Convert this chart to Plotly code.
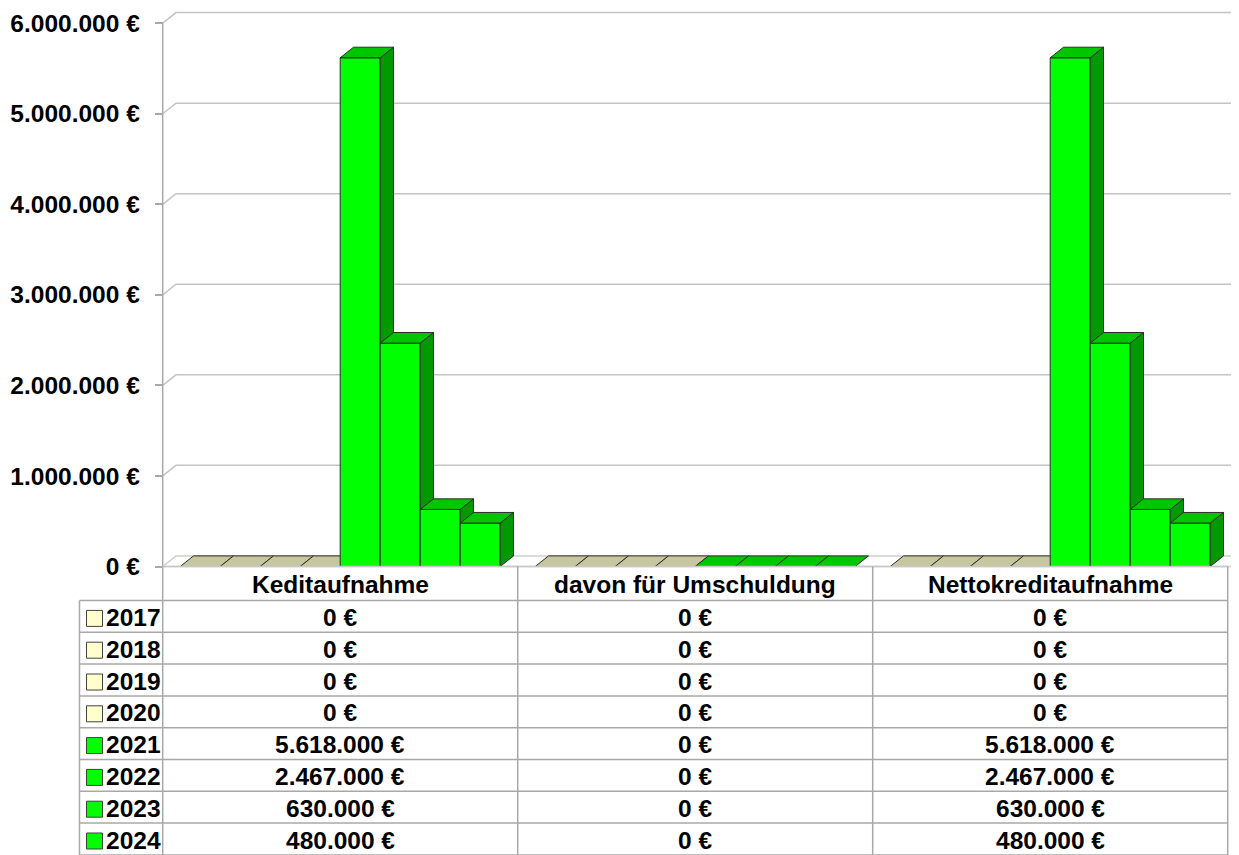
import plotly.graph_objects as go

# ---------------- data ----------------
categories = ["Keditaufnahme", "davon für Umschuldung", "Nettokreditaufnahme"]
years = ["2017", "2018", "2019", "2020", "2021", "2022", "2023", "2024"]
kreditaufnahme = [0, 0, 0, 0, 5618000, 2467000, 630000, 480000]
umschuldung = [0, 0, 0, 0, 0, 0, 0, 0]
nettokreditaufnahme = [0, 0, 0, 0, 5618000, 2467000, 630000, 480000]
y_ticks = [0, 1000000, 2000000, 3000000, 4000000, 5000000, 6000000]

# ---------------- styles ----------------
year_colors = ["#FFFFCC", "#FFFFCC", "#FFFFCC", "#FFFFCC",
               "#00FF00", "#00FF00", "#00FF00", "#00FF00"]
EDGE = "#2b2b2b"
GRID = "#C4C4C4"
TABLE_LINE = "#A8A8A8"
FONT = "Liberation Sans, Arial, sans-serif"
FS = 24.5

# the page body has an 8px margin: figure pixel = screen pixel - OFF
OFF = 8
FIG_W, FIG_H = 1239 - OFF, 855 - OFF
X_LEFT_PX = 162.7 - OFF     # pixel of category boundary -0.5 (value axis)
CAT_PX = 355.0              # pixels per category
Y0_PX = 566.5 - OFF         # pixel of value 0
PX_PER_UNIT = 90.55 / 1e6

BAR_W = 40.0 / CAT_PX
DX = 13.3 / CAT_PX
DY = 10.6 / PX_PER_UNIT

HEADER_TOP = 566.5 - OFF
HEADER_BOT = 600.5 - OFF
ROW_H = 31.8
TABLE_LEFT_PX = 79.5 - OFF


def xd(px):
    return -0.5 + (px - X_LEFT_PX) / CAT_PX


def yp(px):
    return 1 - px / FIG_H


def shade(hexcol, f):
    h = hexcol.lstrip("#")
    r, g, b = (int(h[k:k + 2], 16) for k in (0, 2, 4))
    return "#%02X%02X%02X" % (int(r * f), int(g * f), int(b * f))


def fmt(v):
    return f"{v:,}".replace(",", ".") + " €"


series_by_cat = [kreditaufnahme, umschuldung, nettokreditaufnahme]
n_years = len(years)

x_min = xd(0)
x_max = xd(FIG_W)
y_min = -(FIG_H - Y0_PX) / PX_PER_UNIT
y_max = Y0_PX / PX_PER_UNIT

fig = go.Figure()


def poly(xs, ys, color):
    fig.add_trace(go.Scatter(
        x=xs + [xs[0]], y=ys + [ys[0]], mode="lines", fill="toself",
        fillcolor=color, line=dict(color=EDGE, width=1),
        hoverinfo="skip", showlegend=False))


# pseudo-3D bars, painted left to right
for c, vals in enumerate(series_by_cat):
    for i, v in enumerate(vals):
        base = year_colors[i]
        x0 = c + (i - n_years / 2) * BAR_W
        x1 = x0 + BAR_W
        if v > 0:
            poly([x0, x1, x1, x0], [0, 0, v, v], base)
            poly([x1, x1 + DX, x1 + DX, x1], [0, DY, v + DY, v], shade(base, 0.6))
        poly([x0, x1, x1 + DX, x0 + DX], [v, v, v + DY, v + DY], shade(base, 0.78))

shapes = []
# back-wall gridlines with left-wall diagonal
for t in y_ticks[1:]:
    shapes.append(dict(type="path", xref="x", yref="y", layer="below",
                       path=f"M {-0.5},{t} L {-0.5 + DX},{t + DY} L {x_max},{t + DY}",
                       line=dict(color=GRID, width=1.5)))
# floor
shapes.append(dict(type="path", xref="x", yref="y", layer="below",
                   path=f"M {-0.5},0 L {-0.5 + DX},{DY} L {x_max},{DY} L {x_max},0 Z",
                   fillcolor="white", line=dict(color="#D0D0D0", width=1.5)))
# value axis line continuing as table divider
shapes.append(dict(type="line", xref="x", yref="paper", x0=-0.5, x1=-0.5,
                   y0=yp(Y0_PX - y_ticks[-1] * PX_PER_UNIT), y1=0,
                   line=dict(color=TABLE_LINE, width=1.5)))

# table grid
n_cats = len(categories)
for k in range(n_years + 1):
    ypx = HEADER_BOT + k * ROW_H
    shapes.append(dict(type="line", xref="x", yref="paper",
                       x0=xd(TABLE_LEFT_PX), x1=n_cats - 0.5, y0=yp(ypx), y1=yp(ypx),
                       line=dict(color=TABLE_LINE, width=1.5)))
shapes.append(dict(type="line", xref="x", yref="paper", x0=-0.5, x1=n_cats - 0.5,
                   y0=yp(HEADER_TOP), y1=yp(HEADER_TOP),
                   line=dict(color="#C8C8C8", width=1.5)))
for c in range(n_cats):
    shapes.append(dict(type="line", xref="x", yref="paper", x0=c + 0.5, x1=c + 0.5,
                       y0=yp(HEADER_TOP), y1=0, line=dict(color=TABLE_LINE, width=1.5)))
shapes.append(dict(type="line", xref="x", yref="paper",
                   x0=xd(TABLE_LEFT_PX), x1=xd(TABLE_LEFT_PX),
                   y0=yp(HEADER_BOT), y1=0, line=dict(color=TABLE_LINE, width=1.5)))

annotations = []
for c, name in enumerate(categories):
    annotations.append(dict(x=c, y=yp((HEADER_TOP + HEADER_BOT) / 2 + 1), xref="x", yref="paper",
                            text=name, showarrow=False, xanchor="center", yanchor="middle",
                            font=dict(family=FONT, size=FS, color="black", weight="bold")))
for i, yr in enumerate(years):
    cy = HEADER_BOT + (i + 0.5) * ROW_H
    # legend key square
    shapes.append(dict(type="rect", xref="x", yref="paper",
                       x0=xd(86.5 - OFF), x1=xd(102.5 - OFF), y0=yp(cy + 10), y1=yp(cy - 6),
                       fillcolor=year_colors[i], line=dict(color="#404040", width=1)))
    annotations.append(dict(x=xd(103.5 - OFF), y=yp(cy + 1), xref="x", yref="paper", text=yr,
                            showarrow=False, xanchor="left", yanchor="middle",
                            font=dict(family=FONT, size=FS, color="black", weight="bold")))
    for c, vals in enumerate(series_by_cat):
        annotations.append(dict(x=c, y=yp(cy + 1), xref="x", yref="paper", text=fmt(vals[i]),
                                showarrow=False, xanchor="center", yanchor="middle",
                                font=dict(family=FONT, size=FS, color="black", weight="bold")))

fig.update_layout(
    template="none",
    width=FIG_W, height=FIG_H,
    margin=dict(l=0, r=0, t=0, b=0, pad=0),
    paper_bgcolor="white", plot_bgcolor="white",
    showlegend=False,
    font=dict(family=FONT, size=FS, color="black"),
    xaxis=dict(range=[x_min, x_max], domain=[0, 1], visible=False, fixedrange=True),
    yaxis=dict(range=[y_min, y_max], domain=[0, 1], anchor="free",
               position=X_LEFT_PX / FIG_W, side="left",
               tickvals=y_ticks, ticktext=[fmt(t) for t in y_ticks],
               tickfont=dict(family=FONT, size=FS, color="black", weight="bold"),
               ticks="outside", ticklen=8, tickwidth=1.5, tickcolor=TABLE_LINE,
               ticklabelstandoff=10,
               showgrid=False, zeroline=False, showline=False, automargin=False,
               fixedrange=True),
    shapes=shapes,
    annotations=annotations,
)

fig.write_html("out.html")
